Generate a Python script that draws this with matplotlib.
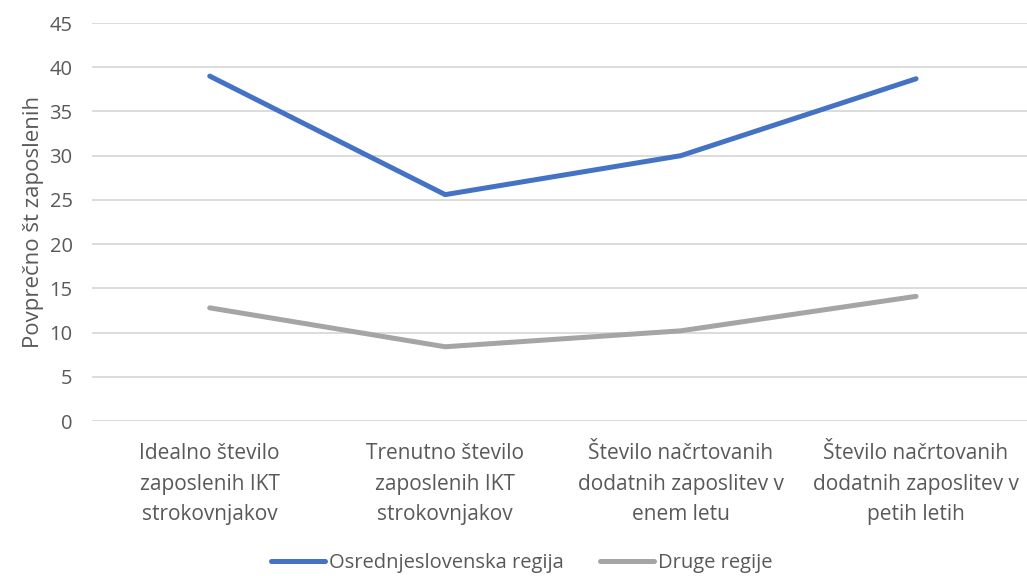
import matplotlib.pyplot as plt
import numpy as np

plt.rcParams['font.family'] = ['Open Sans', 'DejaVu Sans']

kategorije = ['Idealno število\nzaposlenih IKT\nstrokovnjakov',
              'Trenutno število\nzaposlenih IKT\nstrokovnjakov',
              'Število načrtovanih\ndodatnih zaposlitev v\nenem letu',
              'Število načrtovanih\ndodatnih zaposlitev v\npetih letih']
osrednjeslovenska = [39.0, 25.6, 30.0, 38.7]
druge = [12.8, 8.4, 10.2, 14.1]

text_col = '#595959'
grid_col = '#D9D9D9'

fig = plt.figure(figsize=(10.27, 5.76), dpi=100)
ax = fig.add_axes([0.0896, 0.269, 0.917, 0.691])

x = np.arange(len(kategorije))
ax.plot(x, osrednjeslovenska, color='#4472C4', lw=3.6, solid_capstyle='round',
        solid_joinstyle='round', label='Osrednjeslovenska regija', zorder=3)
ax.plot(x, druge, color='#A5A5A5', lw=3.6, solid_capstyle='round',
        solid_joinstyle='round', label='Druge regije', zorder=3)

ax.set_xlim(-0.5, len(kategorije) - 0.5)
ax.set_ylim(0, 45)
ax.set_yticks(range(0, 46, 5))
ax.set_xticks(x)
ax.set_xticklabels(kategorije, linespacing=1.6, fontsize=15)

ax.grid(axis='y', color=grid_col, lw=1.3)
ax.set_axisbelow(True)
for s in ax.spines.values():
    s.set_visible(False)
ax.tick_params(axis='y', length=0, labelsize=14.5, colors=text_col, pad=14)
ax.tick_params(axis='x', length=0, colors=text_col, pad=16)

ax.set_ylabel('Povprečno št zaposlenih', fontsize=16, color=text_col, labelpad=4)

fig.legend(loc='center', bbox_to_anchor=(0.508, 0.023), ncol=2, frameon=False,
           fontsize=14.5, labelcolor=text_col, handlelength=2.7, handletextpad=0.2,
           columnspacing=1.8)

fig.savefig('out.png', dpi=100)
